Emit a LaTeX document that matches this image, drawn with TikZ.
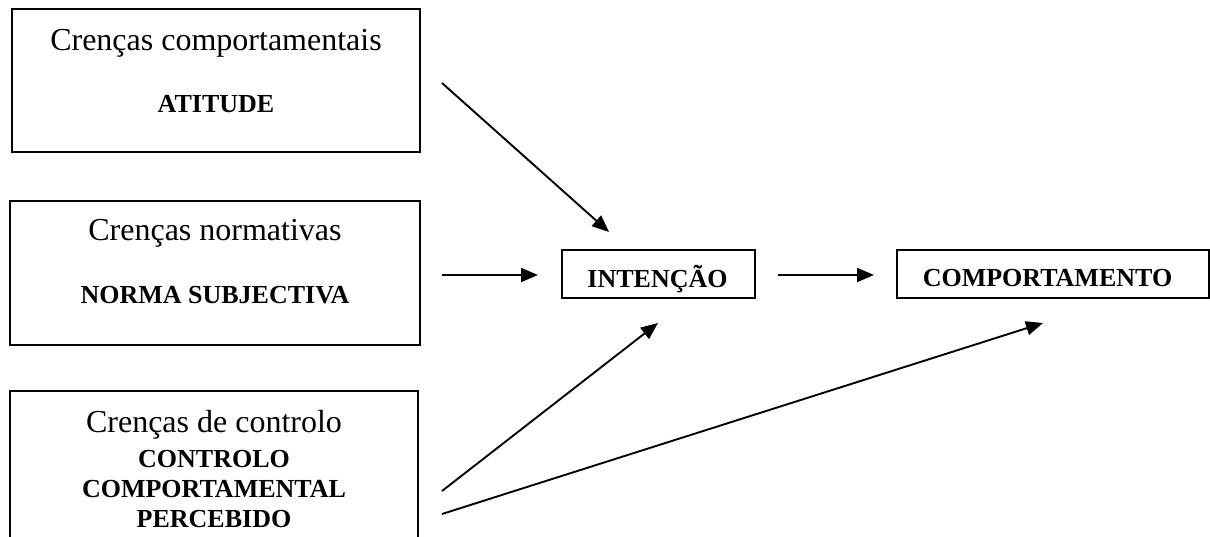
\documentclass[tikz,border=0pt]{standalone}
\usepackage{fontspec}
\setmainfont{Liberation Serif}
\usetikzlibrary{arrows.meta}
\begin{document}
\begin{tikzpicture}[x=1pt,y=-1pt,
  boxstyle/.style={draw=black,line width=2pt,inner sep=0pt,minimum width=#1},
  regtext/.style={anchor=base,inner sep=0pt,font=\fontsize{32}{36}\selectfont},
  boldtext/.style={anchor=base,inner sep=0pt,font=\fontsize{26}{30}\selectfont\bfseries},
  arr/.style={line width=1.9pt,-{Triangle[length=17pt,width=14pt]}}]
\useasboundingbox (0,0) rectangle (1210,536);
% boxes
\node[boxstyle=408pt,minimum height=143pt] (b1) at (216,80.5) {};
\node[boxstyle=410pt,minimum height=144pt] (b2) at (215,273) {};
\node[boxstyle=408pt,minimum height=150pt] (b3) at (214,466) {};
\node[boxstyle=193pt,minimum height=48pt] (int) at (658.5,274) {};
\node[boxstyle=312pt,minimum height=48pt] (comp) at (1053,274) {};
% texts
\node[regtext] (t1a) at (216,50) {Crenças comportamentais};
\node[boldtext] (t1b) at (216,112) {ATITUDE};
\node[regtext] (t2a) at (215,240) {Crenças normativas};
\node[boldtext] (t2b) at (215,303) {NORMA SUBJECTIVA};
\node[regtext] (t3a) at (214,432) {Crenças de controlo};
\node[boldtext] (t3b) at (214,467) {CONTROLO};
\node[boldtext] (t3c) at (214,497) {COMPORTAMENTAL};
\node[boldtext] (t3d) at (214,527) {PERCEBIDO};
\node[boldtext] (tint) at (657.5,287) {INTENÇÃO};
\node[boldtext] (tcomp) at (1047.5,286) {COMPORTAMENTO};
% arrow end points
\coordinate (a1s) at (442,83);
\coordinate (a1e) at (609,232);
\coordinate (a2s) at (442,275);
\coordinate (a2e) at (538,275);
\coordinate (a3s) at (778,275);
\coordinate (a3e) at (874,275);
\coordinate (a4s) at (442,491);
\coordinate (a4e) at (658,323);
\coordinate (a5s) at (442,514);
\coordinate (a5e) at (1043,323);
\draw[arr] (a1s) -- (a1e);
\draw[arr] (a2s) -- (a2e);
\draw[arr] (a3s) -- (a3e);
\draw[arr] (a4s) -- (a4e);
\draw[arr] (a5s) -- (a5e);
\end{tikzpicture}
\end{document}
